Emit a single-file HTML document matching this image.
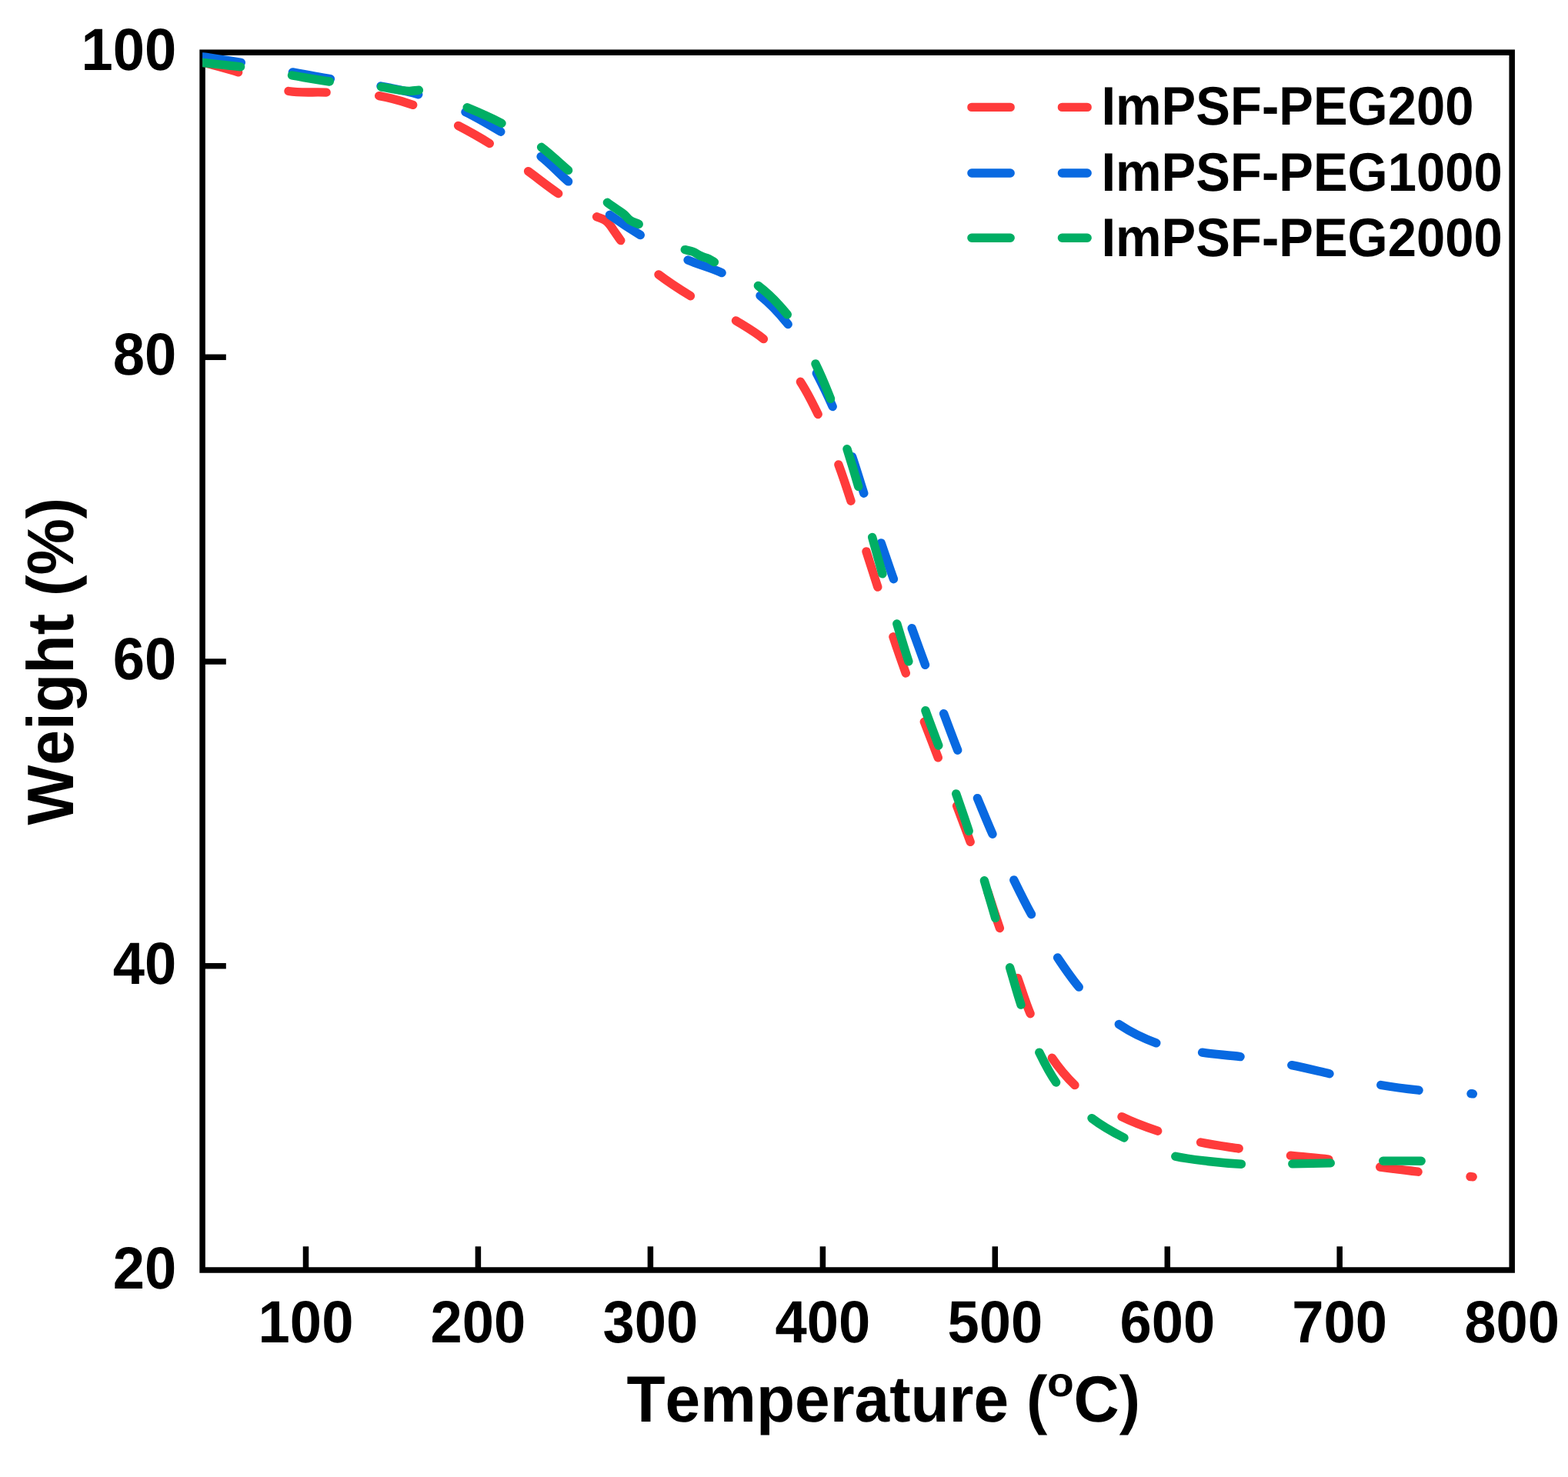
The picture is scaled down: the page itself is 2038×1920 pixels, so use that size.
<!DOCTYPE html>
<html><head><meta charset="utf-8"><title>TGA</title>
<style>
html,body{margin:0;padding:0;background:#fff;}
body{width:2038px;height:1920px;overflow:hidden;}
svg{display:block;}
text{font-family:"Liberation Sans",Arial,Helvetica,sans-serif;font-weight:bold;fill:#000;font-kerning:none;font-variant-ligatures:none;text-rendering:geometricPrecision;}
.tk{font-size:74.2px;}
.ti{font-size:82.2px;}
.lg{font-size:67px;}
</style></head><body>
<svg width="2038" height="1920" viewBox="0 0 2038 1920">
<rect width="2038" height="1920" fill="#fff"/>
<defs><clipPath id="pc"><rect x="263.1" y="68.2" width="1702.1" height="1582.8"/></clipPath></defs>
<g id="axes">
<rect x="263.1" y="68.2" width="1702.1" height="1582.8" fill="none" stroke="#000" stroke-width="7.5"/>
<line x1="397.5" y1="1651.0" x2="397.5" y2="1620.3" stroke="#000" stroke-width="7.5"/>
<line x1="621.4" y1="1651.0" x2="621.4" y2="1620.3" stroke="#000" stroke-width="7.5"/>
<line x1="845.4" y1="1651.0" x2="845.4" y2="1620.3" stroke="#000" stroke-width="7.5"/>
<line x1="1069.4" y1="1651.0" x2="1069.4" y2="1620.3" stroke="#000" stroke-width="7.5"/>
<line x1="1293.3" y1="1651.0" x2="1293.3" y2="1620.3" stroke="#000" stroke-width="7.5"/>
<line x1="1517.3" y1="1651.0" x2="1517.3" y2="1620.3" stroke="#000" stroke-width="7.5"/>
<line x1="1741.2" y1="1651.0" x2="1741.2" y2="1620.3" stroke="#000" stroke-width="7.5"/>
<line x1="263.1" y1="464.3" x2="293.8" y2="464.3" stroke="#000" stroke-width="7.5"/>
<line x1="263.1" y1="860.0" x2="293.8" y2="860.0" stroke="#000" stroke-width="7.5"/>
<line x1="263.1" y1="1255.7" x2="293.8" y2="1255.7" stroke="#000" stroke-width="7.5"/>
<text class="tk" transform="translate(397.5 1745) scale(1 1.043)" text-anchor="middle">100</text>
<text class="tk" transform="translate(621.4 1745) scale(1 1.043)" text-anchor="middle">200</text>
<text class="tk" transform="translate(845.4 1745) scale(1 1.043)" text-anchor="middle">300</text>
<text class="tk" transform="translate(1069.4 1745) scale(1 1.043)" text-anchor="middle">400</text>
<text class="tk" transform="translate(1293.3 1745) scale(1 1.043)" text-anchor="middle">500</text>
<text class="tk" transform="translate(1517.3 1745) scale(1 1.043)" text-anchor="middle">600</text>
<text class="tk" transform="translate(1741.2 1745) scale(1 1.043)" text-anchor="middle">700</text>
<text class="tk" transform="translate(1965.2 1745) scale(1 1.043)" text-anchor="middle">800</text>
<text class="tk" transform="translate(229.2 90.8) scale(1 1.043)" text-anchor="end">100</text>
<text class="tk" transform="translate(229.2 486.9) scale(1 1.043)" text-anchor="end">80</text>
<text class="tk" transform="translate(229.2 882.6) scale(1 1.043)" text-anchor="end">60</text>
<text class="tk" transform="translate(229.2 1278.6) scale(1 1.043)" text-anchor="end">40</text>
<text class="tk" transform="translate(229.2 1674.5) scale(1 1.043)" text-anchor="end">20</text>
<text class="ti" transform="translate(814.4 1848.4) scale(1 1.035)" style="font-size:82px">Temperature (</text>
<text class="ti" transform="translate(1360.9 1815.3) scale(1 0.945)" style="font-size:57px">o</text>
<text class="ti" transform="translate(1395.5 1848.4) scale(1 1.035)" style="font-size:82px">C)</text>
<text class="ti" transform="translate(94.9 859.7) rotate(-90) scale(1 1.035)" text-anchor="middle" style="font-size:82.45px">Weight (%)</text>
<path d="M1262.9 139.4H1313.2M1380.4 139.4H1413.2" stroke="#FF3B3B" stroke-width="11.4" stroke-linecap="round" fill="none"/>
<text class="lg" transform="translate(1431.4 162.4) scale(1 1.054)">ImPSF-PEG200</text>
<path d="M1262.9 225.0H1313.2M1380.4 225.0H1413.2" stroke="#0869E1" stroke-width="11.4" stroke-linecap="round" fill="none"/>
<text class="lg" transform="translate(1431.4 247.7) scale(1 1.054)">ImPSF-PEG1000</text>
<path d="M1262.9 309.3H1313.2M1380.4 309.3H1413.2" stroke="#00AE64" stroke-width="11.4" stroke-linecap="round" fill="none"/>
<text class="lg" transform="translate(1431.4 333.0) scale(1 1.054)">ImPSF-PEG2000</text>
</g>
<g id="curves" clip-path="url(#pc)">
<path d="M255.0 78.5C259.3 79.7 263.7 80.9 268.0 82.1C281.9 86.0 295.9 89.5 309.6 93.9M375.0 118.5C391.1 121.2 407.7 119.3 424.1 120.1M492.7 124.6C507.6 127.4 522.3 131.4 536.7 136.3M595.6 163.4C609.4 170.6 623.1 178.2 636.3 186.5M686.6 222.7C699.7 232.3 712.3 242.5 725.7 251.6M775.6 281.8C779.5 283.6 783.9 284.3 787.3 286.9C788.6 287.9 789.7 289.0 790.8 290.2C793.8 293.4 796.0 297.2 798.5 300.8C801.3 304.7 803.9 308.8 806.8 312.6M856.0 356.9C869.2 367.0 883.2 376.0 897.4 384.7M956.5 416.9C968.7 424.4 981.3 431.5 992.4 440.6M1040.4 496.3C1049.2 509.7 1056.2 524.1 1063.2 538.5M1089.9 603.9C1095.7 619.5 1100.9 635.4 1106.0 651.2M1126.0 716.9C1130.8 732.3 1135.9 747.7 1140.8 763.1M1160.9 827.8C1166.1 843.6 1171.6 859.3 1177.3 875.0M1201.3 938.2C1207.3 953.8 1213.3 969.3 1219.3 984.9M1243.6 1047.5C1249.5 1063.1 1255.5 1078.7 1261.2 1094.4M1283.7 1159.0C1289.0 1174.8 1294.0 1190.7 1299.4 1206.5M1322.7 1271.5C1328.2 1286.9 1332.9 1302.6 1339.1 1317.7M1367.4 1375.3C1376.0 1388.0 1385.9 1400.0 1397.0 1410.6M1458.0 1451.7C1473.0 1459.2 1488.8 1464.9 1504.7 1470.2M1560.6 1485.0C1577.0 1488.4 1593.6 1490.5 1610.2 1493.0M1677.4 1502.2C1693.9 1504.1 1710.4 1505.1 1726.9 1507.1M1793.7 1517.0C1810.1 1519.2 1826.6 1521.4 1843.1 1523.2M1911.0 1529.5C1912.1 1529.6 1913.1 1529.7 1914.2 1529.8" fill="none" stroke="#FF3B3B" stroke-width="11.4" stroke-linecap="round" stroke-linejoin="round"/>
<path d="M255.0 72.4C257.7 72.8 260.3 73.2 263.0 73.6C279.8 76.1 296.6 78.5 313.3 81.3M380.4 93.9C396.7 96.9 413.0 99.9 429.4 102.6M495.0 112.0C511.3 115.0 527.7 118.1 543.7 122.7M605.0 145.7C620.8 153.2 635.7 162.4 650.8 171.2M703.1 203.4C715.8 213.2 726.5 225.4 738.6 235.9M792.5 279.3C805.4 288.5 818.7 297.3 832.3 305.5M894.1 338.0C908.5 344.3 923.9 347.9 938.1 354.6M988.0 384.3C1001.5 395.1 1013.4 408.0 1024.2 421.5M1061.3 485.1C1068.7 499.3 1075.7 513.8 1082.2 528.5M1107.6 593.6C1113.1 609.3 1117.6 625.4 1122.8 641.2M1145.3 706.0C1150.7 721.6 1155.9 737.2 1161.4 752.7M1185.2 816.7C1191.0 832.5 1196.6 848.5 1202.5 864.3M1226.6 927.6C1232.6 943.5 1238.5 959.4 1244.7 975.2M1270.4 1037.6C1276.9 1053.2 1283.2 1068.8 1290.0 1084.3M1317.8 1144.0C1325.1 1159.0 1332.5 1174.0 1340.5 1188.6M1374.6 1244.9C1383.4 1257.9 1392.1 1271.1 1402.3 1283.1M1454.3 1331.5C1469.3 1341.5 1485.8 1349.7 1502.8 1355.8M1562.6 1368.2C1579.0 1370.7 1595.6 1371.4 1612.1 1373.6M1678.8 1384.7C1695.3 1388.0 1711.6 1392.0 1728.0 1395.7M1794.8 1410.5C1811.1 1413.3 1827.6 1415.4 1844.1 1417.2M1912.0 1421.7C1912.8 1421.8 1913.6 1421.8 1914.4 1421.9" fill="none" stroke="#0869E1" stroke-width="11.4" stroke-linecap="round" stroke-linejoin="round"/>
<path d="M255.0 80.6C257.7 80.9 260.3 81.2 263.0 81.5C279.5 83.3 296.1 84.6 312.6 86.8M379.5 98.0C395.8 100.7 412.0 103.7 428.3 106.0M495.7 113.1C508.7 114.7 521.5 119.1 534.5 118.3C537.8 118.1 541.1 117.4 544.4 117.2M607.2 139.8C622.4 146.1 637.4 152.6 652.0 160.2M703.6 191.3C716.0 200.5 726.8 211.5 738.6 221.4M789.4 263.3C793.0 265.9 796.6 268.4 800.2 270.9C803.8 273.4 807.7 275.6 811.0 278.5C813.6 280.7 815.5 283.8 818.3 285.8C821.8 288.4 826.3 289.5 830.2 291.4M890.3 324.6C893.8 325.6 897.4 326.0 900.8 327.3C904.4 328.7 907.4 331.2 910.9 332.8C914.2 334.3 917.8 334.9 921.0 336.4C923.6 337.6 925.9 339.2 928.4 340.6M985.4 371.4C999.5 382.2 1012.2 395.1 1023.3 408.9M1060.0 472.9C1067.2 487.7 1073.6 503.0 1079.5 518.4M1101.0 583.7C1106.1 599.9 1111.0 616.1 1115.7 632.4M1133.7 698.4C1138.1 714.2 1142.4 730.1 1146.9 745.9M1165.8 810.9C1170.7 827.2 1175.6 843.6 1180.9 859.8M1202.9 923.7C1208.4 938.9 1214.2 954.0 1219.8 969.1M1242.7 1031.9C1248.3 1048.0 1253.9 1064.1 1259.2 1080.3M1279.4 1144.8C1284.3 1161.0 1288.9 1177.2 1293.7 1193.4M1312.6 1257.8C1317.4 1273.9 1321.7 1290.2 1327.0 1306.1M1350.8 1368.1C1357.3 1381.5 1364.0 1394.9 1372.6 1407.0M1419.0 1453.6C1432.0 1463.5 1446.4 1471.7 1461.0 1479.0M1527.8 1503.2C1541.7 1506.3 1555.9 1507.8 1570.0 1509.5C1584.4 1511.2 1598.9 1512.5 1613.4 1513.2M1679.8 1512.9C1696.3 1512.7 1712.8 1512.4 1729.3 1511.9M1797.7 1509.2C1814.2 1508.9 1830.7 1509.2 1847.2 1509.2" fill="none" stroke="#00AE64" stroke-width="11.4" stroke-linecap="round" stroke-linejoin="round"/>
</g>
</svg>
</body></html>
